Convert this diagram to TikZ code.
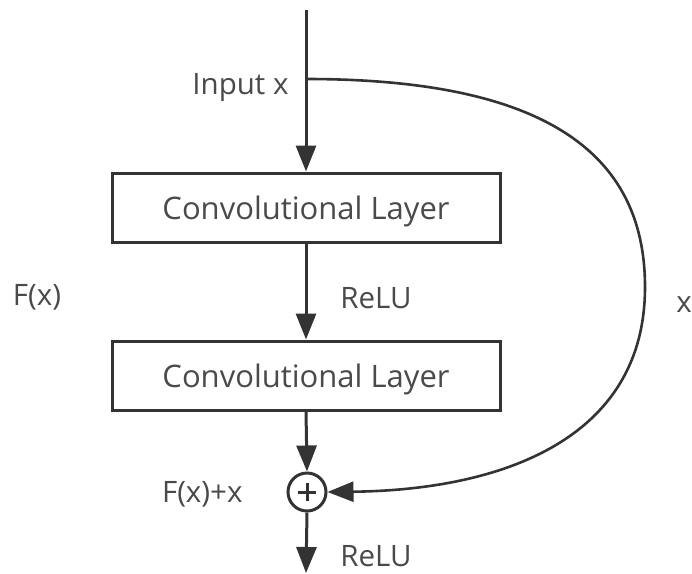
\documentclass[tikz,border=0pt]{standalone}
\usepackage{fontspec}
\setmainfont{Open Sans}
\usetikzlibrary{arrows.meta}
\definecolor{ink}{HTML}{333333}
\definecolor{txt}{HTML}{4A4A4A}
\begin{document}
\begin{tikzpicture}[x=1pt,y=-1pt,
  line width=3pt,
  flow/.style={draw=ink, -{Triangle[length=26pt,width=20pt]}},
  layer/.style={draw=ink, fill=white, minimum width=388pt, minimum height=69pt,
    inner sep=0pt, text=txt, text depth=0pt, font=\fontsize{31}{36}\selectfont},
  lbl/.style={text=txt, inner sep=0pt, font=\fontsize{29.5}{34}\selectfont},
  sumnode/.style={circle, draw=ink, minimum size=38pt, inner sep=0pt}]
  \useasboundingbox (0,0) rectangle (692,573);

  % main path of the residual block
  \coordinate (top) at (306,10);
  \coordinate (split) at (306,79);
  \coordinate (bottom) at (306,573);
  \node[layer] (conv1) at (306,207.5) {Convolutional Layer};
  \node[layer] (conv2) at (306,375.5) {Convolutional Layer};
  \node[sumnode] (sum) at (307,492) {};
  \draw[ink, line width=3pt] ([xshift=-9pt]sum.center) -- ([xshift=9pt]sum.center)
    ([yshift=-9pt]sum.center) -- ([yshift=9pt]sum.center);

  \draw[flow] (top) -- (conv1.north);
  \draw[flow] (conv1.south) -- (conv2.north);
  \draw[flow] (conv2.south) -- (sum.north);
  \draw[flow] (sum.south) -- (bottom);

  % identity shortcut
  \draw[flow, line width=2.6pt] (split) .. controls (540,79) and (645,150) .. (645,287)
    .. controls (645,440) and (500,490) .. (sum.east);

  % labels
  \node[lbl, anchor=east] (inlbl) at (290,88) {Input x};
  \node[lbl] (fxlbl) at (37,297) {F(x)};
  \node[lbl] (relu1) at (376,298) {ReLU};
  \node[lbl] (xlbl) at (684,305) {x};
  \node[lbl, anchor=east] (sumlbl) at (244,494) {F(x)+x};
  \node[lbl] (relu2) at (376,556) {ReLU};
\end{tikzpicture}
\end{document}
